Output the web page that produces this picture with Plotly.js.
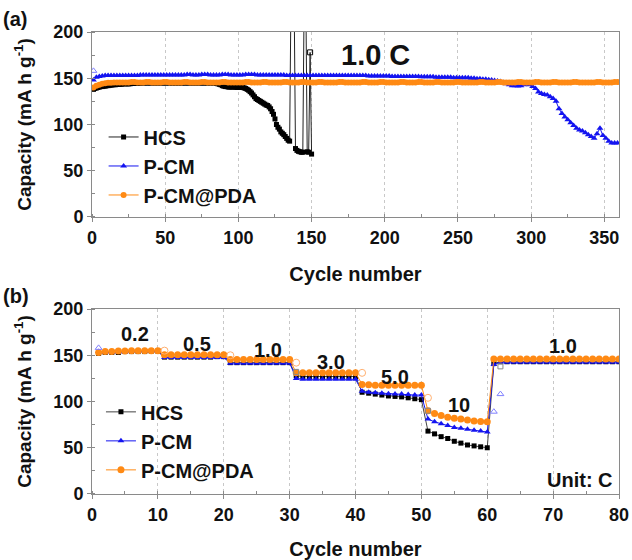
<!DOCTYPE html>
<html><head><meta charset="utf-8">
<script src="https://cdn.plot.ly/plotly-3.0.1.min.js"></script>
<style>html,body{margin:0;padding:0;background:#fff}#chart{width:632px;height:560px}</style>
</head><body><div id="chart"></div>
<script>
// ---------- Panel (a): cycling at 1.0 C ----------
// HCS: cycles 1..150 (values above 200 are off-scale spikes)
const hcsA = [
138,139,139.5,140,140.5,141,141,141.5,141.5,142,
142,142.5,142.5,143,143,143,143.5,143.5,143.5,143.5,
144,144,144,144,144,144,144.5,144.5,144.5,144.5,
144.5,144.5,145,145,145,145,145,145,145,145,
145,145,145,145,145,145,145,145,145,145,
145,145,145,145,145,145,145,145,145,145,
145,145,145,145,145,145,145,145,145,145,
145,145,145,145,145,145,145,145,145,145,
145,145,145,145,144.5,144,143.5,143,142,141.5,
141,141,140.5,140.5,140.5,140.5,140.5,140.5,140,140,
140,140,140,139.5,139,138,137,135.5,134,132,
130,128,127,126,125,124,123,122,121,120.5,
119,117,114,111,106,100,97,95,92,90.5,
89,87,85,83,82,250,250,250,74,72,
71,70.5,70,70,250,250,70.5,70,178,68
];
// P-CM: cycles 1,3,5,...,359
const pcmA = [
148,151,152,152.5,153,153,153,153,153,153,
153,153,153,153,153,153,153.5,153.5,153.5,153.5,153.5,153.5,153.5,153.5,153.5,153.5,153.5,153.5,153.5,153.5,
153.5,153.5,154,154,153.5,153.5,153.5,154,154,154,153.5,153.5,153.5,153.5,154,154,154,153.5,153.5,153.5,
153.5,153.5,154,154,154,154,153.5,153.5,153.5,153.5,153.5,153.5,153.5,153.5,153.5,153.5,153,153,153,153,
153,153,153,153,153,153,153,153,153,153,153,153,153,153,153,153,153,153,153,153,
153,153,153,153,152.5,152.5,152.5,152.5,152.5,152.5,152.5,152.5,152,152,152,152,152,152,152,152,
152,152,151.5,151.5,151.5,151.5,151.5,151,151,151,151,151,151,150.5,150.5,150.5,150.5,150.5,150.5,150,
150,149.5,149.5,149,149,148.5,148,147.5,147,146.5,145.5,144,143,142,142,141.5,142,143,143.5,143,
141,139,135,133.5,132.5,132,130,128,125,117,112,108,105,102,99,96,94,93,91,89,
87,85,90,96,88,85,82,80,80,80
];
// P-CM@PDA: cycles 1,3,5,...,359
const pdaA = [
140,142,143,144,144.5,145,145,145.5,145.5,145.5,
145.5,145.5,145.5,146,146,145.5,145.5,145.5,146,146,145.5,145.5,145.5,145.5,146,146,145.5,145.5,145.5,145.5,
145.5,146,146,145.5,145.5,145.5,145.5,146,146,145.5,145.5,145.5,145.5,145.5,146,146,145.5,145.5,145.5,145.5,
145.5,145.5,146,146,145.5,145.5,145.5,145.5,146,146,145.5,145.5,145.5,145.5,145.5,146,146,145.5,145.5,145.5,
145.5,146,146,145.5,145.5,145.5,145.5,146,146,145.5,145.5,145.5,145.5,145.5,146,146,145.5,145.5,145.5,145.5,
145.5,145.5,146,146,145.5,145.5,145.5,145.5,146,146,145.5,145.5,145.5,145.5,145.5,146,146,145.5,145.5,145.5,
145.5,146,146,145.5,145.5,145.5,145.5,146,146,145.5,145.5,145.5,145.5,145.5,146,146,145.5,145.5,145.5,145.5,
145.5,145.5,146,146,145.5,145.5,145.5,145.5,146,146,145.5,145.5,145.5,145.5,145.5,146,146,145.5,145.5,145.5,
145.5,146,146,145.5,145.5,145.5,145.5,146,146,145.5,145.5,145.5,145.5,145.5,146,146,145.5,145.5,145.5,145.5,
145.5,145.5,146,146,145.5,145.5,145.5,145.5,146,146
];
const pcmAOpenX = [1], pcmAOpenY = [158];
const hcsAOpenIndex = [148];

// ---------- Panel (b): rate capability, cycles 1..80 ----------
const hcsB = [
152,153,153,153,154,154,154,154,154.5,154.5,
148,148,148,148,148,148,148,148,148.5,148.5,
142,142,142,142,142,142,142,142,142,142,
128,127,127,127,127,127,127,127,127,127,
110,109,108,107,106,105.5,105,104,103,102,
68,65,62,60,57,55,53,52,51,50,
141,143,143,143,143,143,143,143,143,143,143,143,143,143,143,143,143,143,143,143
];
const pcmB = [
154,153,153,153.5,153.5,154,154,154,154,154,
147.5,147.5,147.5,147.5,147.5,147.5,147.5,147.5,147.5,147.5,
141.5,141.5,141.5,141.5,141.5,141.5,141.5,141.5,141.5,141.5,
125,124,124,124,124,124,124,124,124,124,
111,110,109.5,109,108.5,108,108,107.5,107,107,
81,78,76,74,72,71,70,69,68,67,
140,142.5,142.5,142.5,142.5,142.5,142.5,142.5,142.5,142.5,142.5,142.5,142.5,142.5,142.5,142.5,142.5,142.5,142.5,142.5
];
const pdaB = [
153,154,154,154.5,154.5,155,155,155,155,155,
150.5,150.5,150.5,150.5,150.5,150.5,150.5,150.5,150.5,150.5,
145.5,145.5,145.5,145.5,145.5,145.5,145.5,145.5,145.5,145.5,
131,131,131,131,131,131,131,131,131,131,
118.5,118,117.5,117.5,117.5,117.5,117.5,117.5,117.5,117.5,
90,87,85,83,82,81,80,79,78.5,78,
146,146,146,146,146,146,146,146,146,146,146,146,146,146,146,146,146,146,146,146
];
const pdaBOpenX = [11,21,31,41,51], pdaBOpenY = [155,150,142,131,104];
const pcmBOpenX = [1,61,62], pcmBOpenY = [158,89,108];
const hcsBOpenX = [31,51,62], hcsBOpenY = [132,90,138];

const rateLabels = ['0.2','0.5','1.0','3.0','5.0','10','1.0'];
const rateLabelX = [6.5,15.9,26.7,36.3,46,55.7,71.5];
const rateLabelY = [173,162,156,143,126.5,96,160];

const names = ['HCS','P-CM','P-CM@PDA'];
const colHCS = '#000000', colPCM = '#1414f0', colPDA = '#ff8a14';
const FONT = 'Liberation Sans, Arial, sans-serif';

const hcsSym = hcsA.map((v,i)=> hcsAOpenIndex.includes(i) ? 'square-open' : 'square');

const traces = [
  {x0:1, dx:1, y:hcsA, type:'scatter', mode:'lines+markers', name:names[0], legend:'legend',
   line:{color:'#222', width:1}, marker:{symbol:hcsSym, size:5, color:colHCS}},
  {x0:1, dx:2, y:pcmA, type:'scatter', mode:'lines+markers', name:names[1], legend:'legend',
   line:{color:colPCM, width:1}, marker:{symbol:'triangle-up', size:6, color:colPCM}},
  {x0:1, dx:2, y:pdaA, type:'scatter', mode:'lines+markers', name:names[2], legend:'legend',
   line:{color:colPDA, width:1}, marker:{symbol:'circle', size:6, color:colPDA}},
  {x:pcmAOpenX, y:pcmAOpenY, type:'scatter', mode:'markers', showlegend:false,
   marker:{symbol:'triangle-up-open', size:6, color:'#8080ff'}},

  {x0:1, dx:1, y:hcsB, xaxis:'x2', yaxis:'y2', type:'scatter', mode:'lines+markers', name:names[0], legend:'legend2',
   line:{color:'#444', width:1}, marker:{symbol:'square', size:5, color:colHCS}},
  {x0:1, dx:1, y:pcmB, xaxis:'x2', yaxis:'y2', type:'scatter', mode:'lines+markers', name:names[1], legend:'legend2',
   line:{color:colPCM, width:1}, marker:{symbol:'triangle-up', size:6, color:colPCM}},
  {x0:1, dx:1, y:pdaB, xaxis:'x2', yaxis:'y2', type:'scatter', mode:'lines+markers', name:names[2], legend:'legend2',
   line:{color:colPDA, width:1}, marker:{symbol:'circle', size:7, color:colPDA}},
  {x:pdaBOpenX, y:pdaBOpenY, xaxis:'x2', yaxis:'y2', type:'scatter', mode:'markers', showlegend:false,
   marker:{symbol:'circle-open', size:7, color:'#ffb070'}},
  {x:pcmBOpenX, y:pcmBOpenY, xaxis:'x2', yaxis:'y2', type:'scatter', mode:'markers', showlegend:false,
   marker:{symbol:'triangle-up-open', size:6, color:'#8080ff'}},
  {x:hcsBOpenX, y:hcsBOpenY, xaxis:'x2', yaxis:'y2', type:'scatter', mode:'markers', showlegend:false,
   marker:{symbol:'square-open', size:5, color:'#888'}}
];

function xax(range, dtick, minor, anchor){
  return {anchor:anchor, domain:[0,1], range:range, dtick:dtick, tick0:0,
    showline:true, linecolor:'#8a8a8a', linewidth:1, mirror:true,
    ticks:'outside', ticklen:4, tickcolor:'#8a8a8a',
    minor:{dtick:minor, ticks:'inside', ticklen:3, tickcolor:'#8a8a8a', showgrid:false},
    showgrid:true, gridcolor:'#c8c8c8', griddash:'dot', gridwidth:1, zeroline:false,
    tickfont:{size:18, family:FONT, weight:'bold', color:'#111'},
    title:{text:'Cycle number', standoff:20, font:{size:20, family:FONT, weight:'bold', color:'#111'}}};
}
function yax(domain, anchor){
  return {anchor:anchor, domain:domain, range:[0,200], dtick:50, tick0:0,
    showline:true, linecolor:'#8a8a8a', linewidth:1, mirror:true,
    ticks:'outside', ticklen:4, tickcolor:'#8a8a8a',
    minor:{dtick:25, ticks:'inside', ticklen:3, tickcolor:'#8a8a8a', showgrid:false},
    showgrid:false, zeroline:false,
    tickfont:{size:18, family:FONT, weight:'bold', color:'#111'},
    title:{text:'Capacity (mA h g<sup>-1</sup>)', standoff:16, font:{size:19, family:FONT, weight:'bold', color:'#111'}}};
}

const legendBase = {xanchor:'left', yanchor:'top', bgcolor:'rgba(0,0,0,0)', borderwidth:0,
  font:{size:20, family:FONT, weight:'bold', color:'#111'}, tracegroupgap:0, itemwidth:30};

const annotations = [
  {text:'(a)', xref:'paper', yref:'paper', x:-0.172, y:1.028, xanchor:'left', yanchor:'middle', showarrow:false,
   font:{size:20, family:FONT, weight:'bold', color:'#111'}},
  {text:'(b)', xref:'paper', yref:'paper', x:-0.172, y:0.428, xanchor:'left', yanchor:'middle', showarrow:false,
   font:{size:20, family:FONT, weight:'bold', color:'#111'}},
  {text:'1.0 C', xref:'x', yref:'y', x:194, y:175, showarrow:false,
   font:{size:29, family:FONT, weight:'bold', color:'#111'}},
  {text:'Unit: C', xref:'x2', yref:'y2', x:79.4, y:15, xanchor:'right', showarrow:false,
   font:{size:20, family:FONT, weight:'bold', color:'#111'}}
];
rateLabels.forEach((t,i)=>annotations.push({text:t, xref:'x2', yref:'y2', x:rateLabelX[i], y:rateLabelY[i],
  showarrow:false, font:{size:20, family:FONT, weight:'bold', color:'#111'}}));

const layout = {
  width:632, height:560, paper_bgcolor:'#fff', plot_bgcolor:'#fff',
  margin:{l:92, r:13, t:32, b:66},
  font:{family:FONT, weight:'bold', color:'#111'},
  xaxis: xax([0,360], 50, 25, 'y'),
  yaxis: yax([0.5996,1], 'x'),
  xaxis2: xax([0,80], 10, 5, 'y2'),
  yaxis2: yax([0,0.4004], 'x2'),
  legend: Object.assign({x:0.022, y:0.815}, legendBase),
  legend2: Object.assign({x:0.017, y:0.22}, legendBase),
  annotations: annotations,
  showlegend:true
};

Plotly.newPlot('chart', traces, layout, {displayModeBar:false, staticPlot:true});
</script>
</body></html>
